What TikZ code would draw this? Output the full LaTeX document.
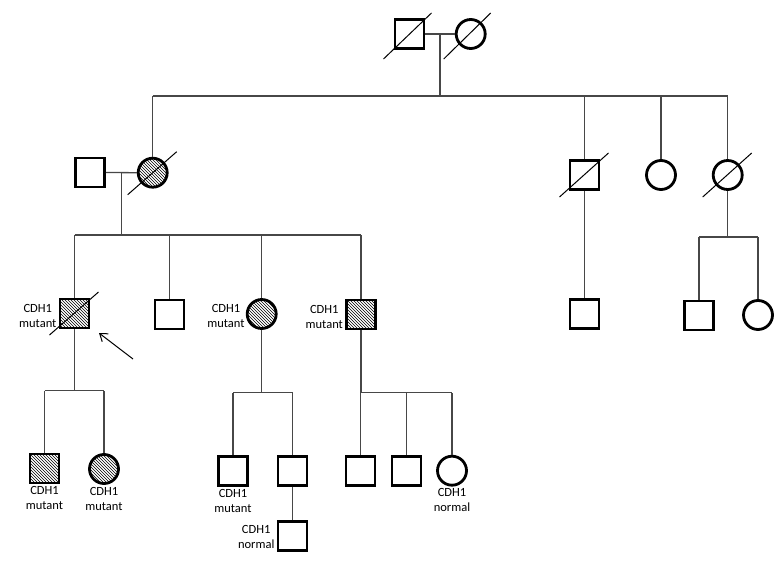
\documentclass[tikz,border=0pt]{standalone}
\usepackage{fontspec}
\setmainfont{Carlito}
\usetikzlibrary{patterns,calc,arrows.meta}
\begin{document}
\begin{tikzpicture}[x=1pt,y=-1pt,
  ind/.style={draw=black, line width=2.8pt, minimum size=29pt, inner sep=0pt},
  male/.style={ind, rectangle},
  female/.style={ind, circle},
  aff/.style={pattern=north west lines, pattern color=black},
  conn/.style={draw=black!72, line width=1.3pt},
  slash/.style={draw=black, line width=1pt},
  lab/.style={font=\fontsize{12.5}{15}\selectfont, align=center, inner sep=1pt},
  pointer/.style={draw=black, line width=1pt, -{Straight Barb[length=7pt,width=10pt]}},
]
\useasboundingbox (0,0) rectangle (777,565);

% generation I
\node[male]   (I1) at (409.5,34) {};
\node[female] (I2) at (470.7,34) {};
% generation II
\node[male]        (II1) at (90,172.5) {};
\node[female, aff] (II2) at (152.7,172.7) {};
\node[male]        (II3) at (584.5,175) {};
\node[female]      (II4) at (661,175) {};
\node[female]      (II5) at (727.7,175) {};
% generation III
\node[male, aff]   (III1) at (74.5,313.5) {};
\node[male]        (III2) at (169.5,314.5) {};
\node[female, aff] (III3) at (261.7,314) {};
\node[male, aff]   (III4) at (361,314.5) {};
\node[male]        (III5) at (584.5,314) {};
\node[male]        (III6) at (699,315.5) {};
\node[female]      (III7) at (758,315) {};
% generation IV
\node[male, aff]   (IV1) at (44.5,468.5) {};
\node[female, aff] (IV2) at (104,469) {};
\node[male]        (IV3) at (233,471) {};
\node[male]        (IV4) at (292.5,471) {};
\node[male]        (IV5) at (360.5,471) {};
\node[male]        (IV6) at (406.5,471) {};
\node[female]      (IV7) at (452,470.7) {};
% generation V
\node[male]        (V1) at (292.5,536) {};

% deceased slashes
\draw[slash] ($(I1)+(-26,25)$) -- ($(I1)+(22,-21)$);
\draw[slash] ($(I2)+(-27,25)$) -- ($(I2)+(20,-21)$);
\draw[slash] ($(II2)+(-25,22)$) -- ($(II2)+(24,-21)$);
\draw[slash] ($(II3)+(-25,22)$) -- ($(II3)+(24,-22)$);
\draw[slash] ($(II5)+(-25,22)$) -- ($(II5)+(24,-22)$);
\draw[slash] ($(III1)+(-25,21.5)$) -- ($(III1)+(24,-21.5)$);

% bar levels
\coordinate (b1) at (0,96);
\coordinate (b2) at (0,235);
\coordinate (b3) at (0,237);
\coordinate (b4) at (0,390.7);
\coordinate (b5) at (0,392.7);

% I family
\draw[conn] (I1.east) -- (I2.west);
\coordinate (m1) at ($(I1.east)!0.5!(I2.west)$);
\draw[conn] (m1) -- (m1 |- b1);
\draw[conn] (II2.north |- b1) -- (II5.north |- b1);
\foreach \n in {II2,II3,II4,II5} \draw[conn] (\n.north) -- (\n.north |- b1);

% II1 x II2 family
\draw[conn] (II1.east) -- (II2.west);
\coordinate (m2) at ($(II1.east)!0.5!(II2.west)$);
\draw[conn] (m2) -- (m2 |- b2);
\draw[conn] (III1.north |- b2) -- (III4.north |- b2);
\foreach \n in {III1,III2,III3,III4} \draw[conn] (\n.north) -- (\n.north |- b2);

% II3 child
\draw[conn] (II3.south) -- (III5.north);

% II5 children
\draw[conn] (II5.south) -- (II5.south |- b3);
\draw[conn] (III6.north |- b3) -- (III7.north |- b3);
\foreach \n in {III6,III7} \draw[conn] (\n.north) -- (\n.north |- b3);

% III1 children
\draw[conn] (III1.south) -- (III1.south |- b4);
\draw[conn] (IV1.north |- b4) -- (IV2.north |- b4);
\foreach \n in {IV1,IV2} \draw[conn] (\n.north) -- (\n.north |- b4);

% III3 children
\draw[conn] (III3.south) -- (III3.south |- b5);
\draw[conn] (IV3.north |- b5) -- (IV4.north |- b5);
\foreach \n in {IV3,IV4} \draw[conn] (\n.north) -- (\n.north |- b5);

% III4 children
\draw[conn] (III4.south) -- (III4.south |- b5);
\draw[conn] (IV5.north |- b5) -- (IV7.north |- b5);
\foreach \n in {IV5,IV6,IV7} \draw[conn] (\n.north) -- (\n.north |- b5);

% IV4 child
\draw[conn] (IV4.south) -- (V1.north);

% proband arrow
\coordinate (arrS) at (133,359);
\coordinate (arrT) at (99,333);
\draw[pointer] (arrS) -- (arrT);

% labels
\node[lab, anchor=east] (L1) at ($(III1.west)+(-1,2)$) {CDH1\\mutant};
\node[lab, anchor=east] (L2) at ($(III3.west)+(0,2)$) {CDH1\\mutant};
\node[lab, anchor=east] (L3) at ($(III4.west)+(-1,2)$) {CDH1\\mutant};
\node[lab, anchor=north] (L4) at ($(IV1.south)+(0,1)$) {CDH1\\mutant};
\node[lab, anchor=north] (L5) at ($(IV2.south)+(0,1)$) {CDH1\\mutant};
\node[lab, anchor=north] (L6) at ($(IV3.south)+(0,1)$) {CDH1\\mutant};
\node[lab, anchor=north] (L7) at ($(IV7.south)+(0,1)$) {CDH1\\normal};
\node[lab, anchor=east] (L8) at ($(V1.west)+(-1,1)$) {CDH1\\normal};
\end{tikzpicture}
\end{document}
